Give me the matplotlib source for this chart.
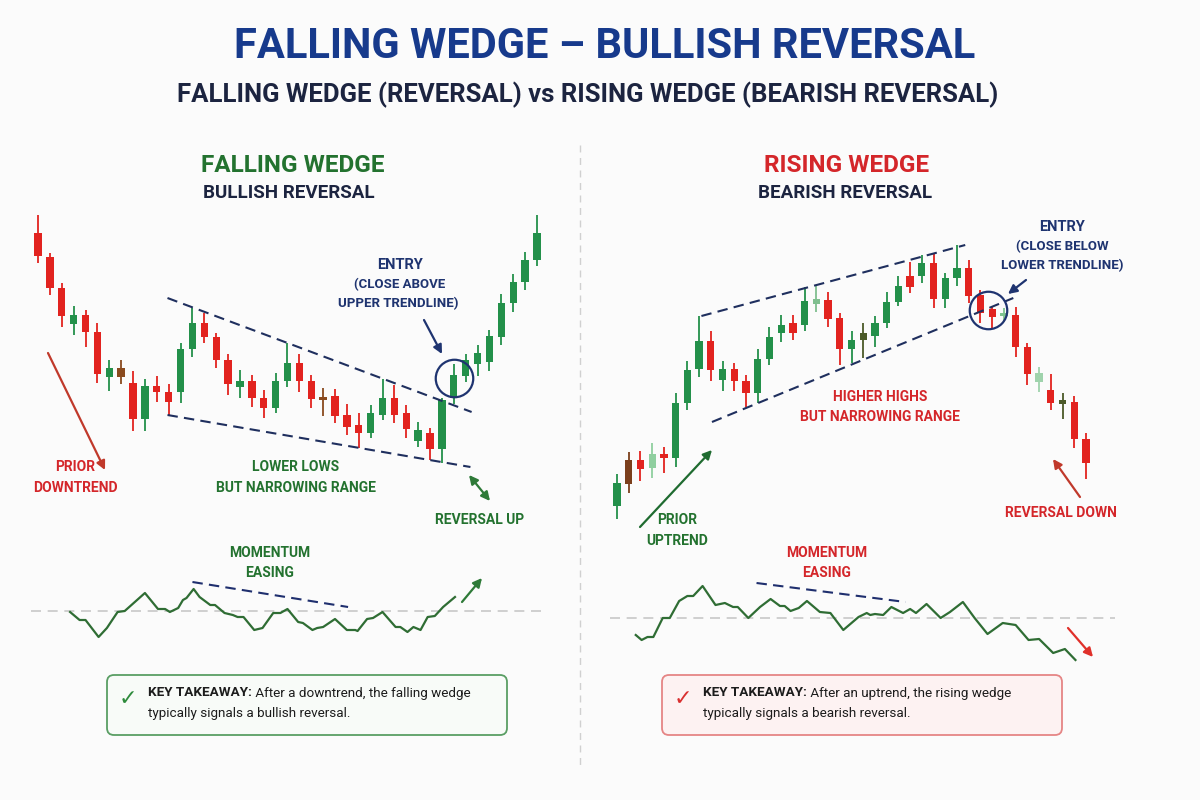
import numpy as np
import matplotlib.pyplot as plt
from matplotlib.patches import FancyBboxPatch

W, H = 1200, 800
BG = "#fbfbfb"
GREEN = "#23904a"
RED = "#e2231f"
NAVY = "#1f3470"
DARK = "#1c2440"
TXT_GREEN = "#23722f"
TXT_RED = "#d4262a"

# ---- falling wedge candles (open, close, high, low) ----
left_open = [267, 243, 212, 176, 185, 168, 123, 123, 117, 81, 114, 108, 108, 151, 177,
             163, 140, 113, 119, 102, 92, 119, 137, 119, 103, 104, 85, 75, 67, 85,
             102, 87, 59, 67, 51, 102, 124, 136, 138, 163, 197, 218, 240]
left_close = [244, 212, 184, 185, 168, 126, 132, 132, 81, 114, 108, 98, 151, 177, 163,
              140, 116, 119, 102, 92, 119, 137, 119, 101, 100, 84, 73, 67, 87, 102,
              85, 71, 70, 51, 100, 125, 140, 147, 164, 197, 218, 240, 267]
left_high = [285, 247, 217, 194, 190, 177, 140, 140, 129, 121, 124, 116, 157, 192, 187,
             167, 146, 130, 125, 110, 127, 157, 146, 125, 112, 111, 96, 87, 95, 121,
             115, 95, 78, 72, 102, 136, 146, 155, 170, 206, 226, 248, 285]
left_low = [237, 205, 173, 165, 153, 117, 109, 116, 69, 69, 98, 85, 97, 143, 157,
            132, 105, 102, 93, 82, 87, 113, 108, 92, 84, 77, 65, 52, 62, 80,
            77, 62, 53, 40, 37, 96, 118, 124, 129, 155, 188, 210, 234]
left_special = {7: "#8a4a1e", 24: "#8a4a1e"}

# ---- rising wedge candles ----
right_open = [44, 66, 90, 82, 96, 92, 147, 181, 209, 170, 181, 169, 157, 191, 217,
              227, 225, 246, 250, 232, 201, 210, 214, 227, 248, 274, 274, 287, 251, 272,
              282, 255, 241, 234, 235, 203, 168, 160, 146, 148, 111]
right_close = [67, 90, 81, 96, 92, 147, 180, 209, 180, 181, 169, 157, 191, 213, 225,
               217, 249, 251, 231, 201, 210, 217, 227, 248, 264, 263, 287, 251, 272, 282,
               254, 237, 233, 237, 203, 176, 177, 147, 150, 111, 87]
right_high = [76, 98, 99, 107, 103, 157, 189, 234, 219, 189, 187, 175, 201, 223, 235,
              235, 263, 265, 258, 237, 219, 227, 234, 258, 274, 288, 295, 297, 277, 305,
              290, 260, 243, 242, 243, 207, 183, 176, 157, 154, 117]
right_low = [31, 57, 69, 72, 77, 83, 140, 173, 169, 159, 159, 143, 147, 185, 208,
             210, 219, 238, 223, 185, 187, 192, 203, 222, 244, 257, 267, 242, 242, 264,
             247, 227, 222, 228, 193, 165, 158, 140, 131, 102, 71]
right_special = {1: "#7b3f1c", 3: "#8fcf9f", 17: "#7fbf8f", 21: "#4b5a28",
                 33: "#7fc48f", 36: "#9fd3ac", 38: "#4b5a28"}

# wedge trendlines (candle index, price)
left_upper = ([10.9, 36.5], [202, 88])
left_lower = ([10.9, 36.4], [85, 33])
right_upper = ([7.2, 29.7], [234, 305])
right_lower = ([8.1, 33.8], [128, 252])

# ---- momentum ----
left_mom_t = [2.7, 3.5, 4.0, 5.1, 5.8, 6.7, 7.3, 9.0, 10.1, 10.7, 11.1, 11.8, 12.2, 12.5,
              13.1, 13.6, 14.5, 14.9, 15.7, 16.4, 16.8, 17.3, 18.2, 18.9, 19.8, 20.4,
              21.0, 21.9, 22.3, 23.1, 23.5, 24.0, 25.0, 26.0, 26.7, 26.9, 27.7, 28.2,
              29.0, 30.1, 30.5, 31.1, 31.6, 32.2, 32.8, 33.4, 34.1, 35.1]
left_mom = [-1, -9, -9, -26, -17, -1, 0, 18, 2, 2, -1, 3, 11, 13, 22, 14, 6, 6, -2, -4,
            -6, -6, -19, -17, -2, -2, 2, -11, -12, -19, -17, -16, -8, -19, -19, -20,
            -8, -7, -1, -16, -16, -21, -16, -19, -6, -5, 4, 14]
right_mom_t = [1.6, 2.1, 2.6, 3.1, 3.9, 4.5, 5.3, 6.0, 6.5, 7.3, 8.4, 9.2, 9.9, 10.3,
               11.2, 12.2, 13.1, 13.9, 14.3, 14.8, 15.5, 16.2, 17.3, 18.2, 19.3, 20.6,
               21.3, 21.6, 22.0, 22.7, 23.4, 23.9, 24.4, 25.0, 25.5, 26.4, 27.6, 28.4,
               29.5, 30.5, 31.6, 32.9, 34.0, 35.1, 36.0, 37.2, 38.2, 39.1]
right_mom = [-17, -22, -19, -19, 0, 0, 17, 22, 22, 32, 13, 15, 11, 11, 0, 11, 19, 12,
             12, 7, 10, 17, 6, 5, -12, 1, 5, 3, 4, 3, 11, 8, 5, 9, 5, 14, 0, 6, 16, 0,
             -16, -5, -7, -22, -21, -35, -31, -42]
left_div = ([13.0, 26.1], [29, 4])
right_div = ([11.9, 24.6], [35, 16])

plt.rcParams['font.family'] = ['Roboto', 'DejaVu Sans']

fig = plt.figure(figsize=(12, 8), dpi=100)
fig.patch.set_facecolor(BG)


def px_axes(x0, y0, x1, y1, px0, step, base):
    """axes on a pixel rectangle; index 0 sits at px0, one unit of value = one pixel"""
    ax = fig.add_axes([x0 / W, 1 - y1 / H, (x1 - x0) / W, (y1 - y0) / H])
    ax.set_xlim((x0 - px0) / step, (x1 - px0) / step)
    ax.set_ylim(base - y1, base - y0)
    ax.axis("off")
    ax.patch.set_alpha(0)
    return ax


def candles(ax, o, c, h, l, special):
    o, c, h, l = map(np.asarray, (o, c, h, l))
    idx = np.arange(len(o))
    cols = [special.get(i, GREEN if c[i] >= o[i] else RED) for i in idx]
    ax.vlines(idx, l, h, colors=cols, lw=1.3, zorder=2)
    ax.bar(idx, np.maximum(np.abs(c - o), 3), bottom=np.minimum(o, c), width=0.62,
           color=cols, zorder=3)


def trend(ax, line):
    ax.plot(line[0], line[1], color="#1f2f5e", lw=1.5, ls=(0, (5, 3)), zorder=4)


# left candle panel
axl = px_axes(20, 200, 560, 480, 38, 11.88, 500)
candles(axl, left_open, left_close, left_high, left_low, left_special)
trend(axl, left_upper)
trend(axl, left_lower)
axl.plot(35.0, 122, marker="o", ms=27, mfc="none", mec=NAVY, mew=1.6, zorder=5)

# right candle panel
axr = px_axes(600, 200, 1120, 530, 617, 11.725, 550)
candles(axr, right_open, right_close, right_high, right_low, right_special)
trend(axr, right_upper)
trend(axr, right_lower)
axr.plot(31.6, 240, marker="o", ms=27, mfc="none", mec=NAVY, mew=1.6, zorder=5)

# momentum panels
axml = px_axes(20, 565, 560, 665, 38, 11.88, 611)
axml.plot([-0.6, 42.3], [0, 0], color="#c8c8c8", lw=1.2, ls=(0, (6, 4)))
axml.plot(left_mom_t, left_mom, color="#2f6d34", lw=1.6)
axml.plot(left_div[0], left_div[1], color="#1f2f6e", lw=1.5, ls=(0, (5, 3)))

axmr = px_axes(600, 565, 1120, 675, 617, 11.725, 618)
axmr.plot([-0.6, 42.5], [0, 0], color="#c8c8c8", lw=1.2, ls=(0, (6, 4)))
axmr.plot(right_mom_t, right_mom, color="#2f6d34", lw=1.6)
axmr.plot(right_div[0], right_div[1], color="#1f2f6e", lw=1.5, ls=(0, (5, 3)))

# overlay for text, arrows, boxes
cv = fig.add_axes([0, 0, 1, 1], zorder=10)
cv.set_xlim(0, W)
cv.set_ylim(H, 0)
cv.axis("off")
cv.patch.set_alpha(0)


def txt(x, y, s, color, size, weight="bold", **kw):
    cv.text(x, y, s, color=color, fontsize=size, fontweight=weight,
            ha=kw.pop("ha", "center"), va="center", **kw)


def arrow(x0, y0, x1, y1, color, style="-|>"):
    cv.annotate("", xy=(x1, y1), xytext=(x0, y0),
                arrowprops=dict(arrowstyle=style, color=color, lw=1.6,
                                mutation_scale=13, shrinkA=0, shrinkB=0))


txt(605, 47, "FALLING WEDGE – BULLISH REVERSAL", "#173a8c", 30)
txt(588, 95, "FALLING WEDGE (REVERSAL) vs RISING WEDGE (BEARISH REVERSAL)", DARK, 18.5)
cv.plot([580, 580], [145, 765], color="#d0d0d0", lw=1, ls=(0, (5, 4)))

txt(293, 165, "FALLING WEDGE", TXT_GREEN, 17.5)
txt(289, 193, "BULLISH REVERSAL", DARK, 13.5)
txt(847, 165, "RISING WEDGE", TXT_RED, 17.5)
txt(845, 193, "BEARISH REVERSAL", DARK, 13.5)

# left annotations
txt(400, 265, "ENTRY", NAVY, 10.5)
txt(400, 285, "(CLOSE ABOVE", NAVY, 9.5)
txt(398, 304, "UPPER TRENDLINE)", NAVY, 9.5)
arrow(424, 320, 442, 354, NAVY)
arrow(48, 353, 105, 470, "#c0392b")
txt(75, 467, "PRIOR", TXT_RED, 10)
txt(75, 488, "DOWNTREND", TXT_RED, 10)
txt(296, 467, "LOWER LOWS", TXT_GREEN, 10)
txt(296, 488, "BUT NARROWING RANGE", TXT_GREEN, 10)
arrow(469, 475, 490, 501, "#2e7a38", "<|-|>")
txt(480, 520, "REVERSAL UP", TXT_GREEN, 10)
txt(270, 553, "MOMENTUM", TXT_GREEN, 10)
txt(270, 573, "EASING", TXT_GREEN, 10)
arrow(462, 602, 482, 578, "#2e7a38")

# right annotations
txt(1062, 227, "ENTRY", NAVY, 10.5)
txt(1062, 247, "(CLOSE BELOW", NAVY, 9.5)
txt(1062, 266, "LOWER TRENDLINE)", NAVY, 9.5)
arrow(1026, 280, 1008, 294, NAVY)
txt(880, 397, "HIGHER HIGHS", TXT_RED, 10)
txt(880, 417, "BUT NARROWING RANGE", TXT_RED, 10)
arrow(640, 527, 712, 450, "#1f6b30")
txt(677, 520, "PRIOR", TXT_GREEN, 10)
txt(677, 541, "UPTREND", TXT_GREEN, 10)
arrow(1080, 497, 1053, 459, "#c0392b")
txt(1061, 513, "REVERSAL DOWN", TXT_RED, 10)
txt(827, 553, "MOMENTUM", TXT_RED, 10)
txt(827, 573, "EASING", TXT_RED, 10)
arrow(1068, 628, 1093, 657, "#e0302a")

# takeaway boxes
boxes = [(107, "#5a9e64", "#f8fbf8", "#2e8b3c",
          "After a downtrend, the falling wedge", "typically signals a bullish reversal."),
         (662, "#e58585", "#fdf2f2", "#d93030",
          "After an uptrend, the rising wedge", "typically signals a bearish reversal.")]
for x0, edge, face, tick, line1, line2 in boxes:
    cv.add_patch(FancyBboxPatch((x0, 675), 400, 60, boxstyle="round,pad=0,rounding_size=7",
                                fc=face, ec=edge, lw=1.3))
    txt(x0 + 21, 699, "✓", tick, 16, ha="center", family=["DejaVu Sans"])
    kt = cv.text(x0 + 41, 693, "KEY TAKEAWAY:", color="#1c1c1c", fontsize=9.7,
                 fontweight="bold", ha="left", va="center")
    cv.annotate(" " + line1, xy=(1, 0), xycoords=kt, va="bottom", ha="left",
                color="#1c1c1c", fontsize=9.7)
    cv.text(x0 + 41, 714, line2, color="#1c1c1c", fontsize=9.7, ha="left", va="center")

fig.savefig("out.png", dpi=100, facecolor=BG)
